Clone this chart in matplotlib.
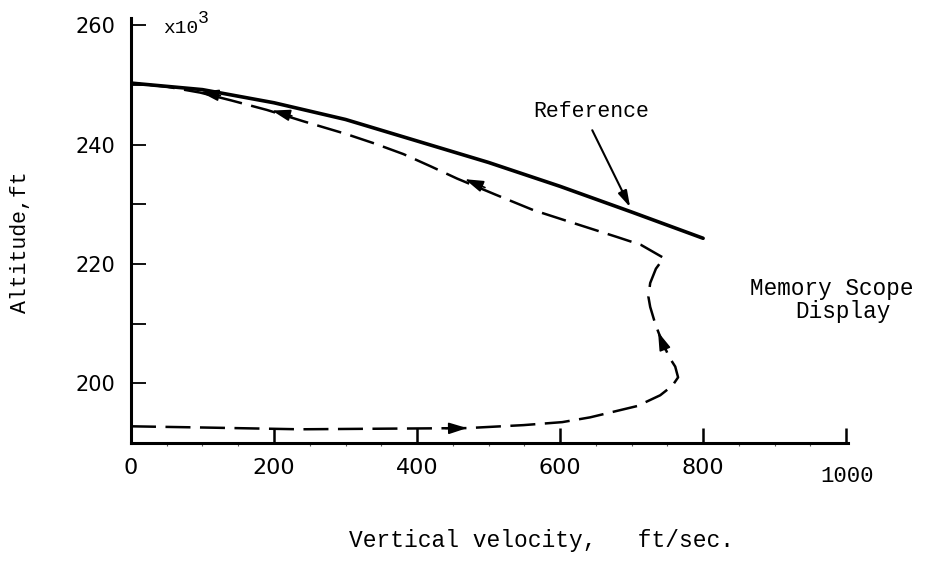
import numpy as np
import matplotlib
matplotlib.use("Agg")
import matplotlib.pyplot as plt
from matplotlib.ticker import MultipleLocator

# reference altitude profile (ft/sec, kft)
ref_vel = [0, 100, 200, 300, 400, 500, 600, 700, 800]
ref_alt = [250.3, 249.2, 247.0, 244.2, 240.6, 237.0, 233.0, 228.7, 224.3]

# memory scope trace, in time order (starts low, climbs, returns along the top)
scope_vel = [0, 100, 236, 350, 470, 549, 603, 642, 708, 740, 757, 765, 761,
             752, 738, 733, 726, 723.5, 726, 734, 745,
             713, 680, 620, 563, 510, 456, 420, 381, 340, 300, 241, 190, 140, 97, 50, 0]
scope_alt = [192.8, 192.6, 192.3, 192.4, 192.5, 193.0, 193.5, 194.3, 196.2, 198.0, 199.6, 201.0, 202.8,
             204.5, 208.4, 210.0, 212.8, 214.5, 216.8, 219.2, 221.0,
             223.2, 224.5, 226.8, 229.0, 231.6, 234.3, 236.3, 238.4, 240.2, 241.8, 243.9, 245.8, 247.4,
             248.7, 249.7, 250.3]

# direction arrows along the trace: (tail, tip)
arrow_tails = [(440, 192.45), (747, 205.6), (495, 232.8), (225, 244.8), (125, 248.2)]
arrow_tips = [(470, 192.5), (737, 208.6), (467, 234.2), (197, 245.7), (97, 248.8)]

x_ticks = [0, 200, 400, 600, 800, 1000]
x_ticklabels = ["0", "200", "400", "600", "800", ""]
y_ticks = [200, 210, 220, 230, 240, 250, 260]
y_ticklabels = ["200", "", "220", "", "240", "", "260"]

mono = "Liberation Mono"
letter = "DejaVu Sans"

fig = plt.figure(figsize=(9.25, 5.61), dpi=100)
ax = fig.add_axes([0.1416, 0.2103, 0.7747, 0.7576])
ax.set_xlim(0, 1002)
ax.set_ylim(190, 261.2)

ax.plot(ref_vel, ref_alt, color="black", lw=2.6, solid_capstyle="round", zorder=3)
ax.plot(scope_vel, scope_alt, color="black", lw=1.8, ls=(0, (10, 3.8)), zorder=3)

for tail, tip in zip(arrow_tails, arrow_tips):
    ax.annotate("", xy=tip, xytext=tail,
                arrowprops=dict(arrowstyle="-|>,head_length=0.7,head_width=0.22",
                                color="black", lw=1.2, mutation_scale=16,
                                shrinkA=0, shrinkB=0))

# annotation for the reference line
ax.text(562, 244.6, "Reference", fontfamily=mono, fontsize=15.5, va="baseline", ha="left")
ax.annotate("", xy=(698, 229.5), xytext=(645, 242.4),
            arrowprops=dict(arrowstyle="-|>,head_length=0.7,head_width=0.2",
                            color="black", lw=1.5, mutation_scale=14,
                            shrinkA=0, shrinkB=0))

ax.text(866, 214.8, "Memory Scope", fontfamily=mono, fontsize=16.3, va="baseline",
        ha="left", clip_on=False)
ax.text(929, 210.9, "Display", fontfamily=mono, fontsize=16.3, va="baseline",
        ha="left", clip_on=False)

# axes styling
for side in ("top", "right"):
    ax.spines[side].set_visible(False)
for side in ("left", "bottom"):
    ax.spines[side].set_linewidth(2.2)

ax.set_xticks(x_ticks)
ax.set_xticklabels(x_ticklabels)
ax.xaxis.set_minor_locator(MultipleLocator(50))
ax.tick_params(axis="x", which="major", direction="in", length=11, width=1.8,
               pad=11, labelsize=16)
ax.tick_params(axis="x", which="minor", direction="out", length=2.5, width=0.8,
               color="0.35")
ax.set_yticks(y_ticks)
ax.set_yticklabels(y_ticklabels)
ax.tick_params(axis="y", which="major", direction="in", length=11, width=1.3,
               pad=11, labelsize=15)
for lab in ax.get_xticklabels() + ax.get_yticklabels():
    lab.set_fontfamily(letter)

ax.text(1001, 184.45, "1000", fontfamily=mono, fontsize=16, ha="center",
        va="center", clip_on=False)

# axis scale marker
ax.text(45, 258.7, "x10", fontfamily=mono, fontsize=14, va="baseline", ha="left")
ax.text(94, 260.3, "3", fontfamily=mono, fontsize=13, va="baseline", ha="left")

fig.text(0.022, 0.569, "Altitude,ft", fontfamily=mono, fontsize=15.5,
         rotation=90, ha="center", va="center")
fig.text(0.585, 0.037, "Vertical velocity,   ft/sec.", fontfamily=mono,
         fontsize=16.5, ha="center", va="center")

fig.savefig("out.png", dpi=100)
